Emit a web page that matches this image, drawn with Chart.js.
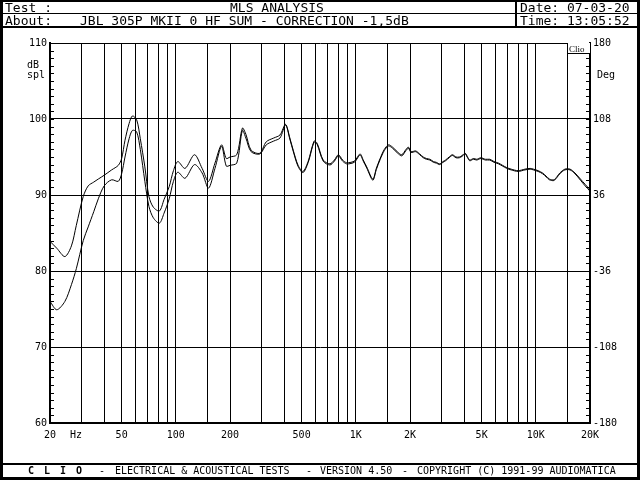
<!DOCTYPE html>
<html>
<head>
<meta charset="utf-8">
<script src="https://cdn.jsdelivr.net/npm/chart.js@4.4.1/dist/chart.umd.min.js"></script>
<style>
  html, body { margin:0; padding:0; background:#fff; }
  #wrap { position:relative; width:640px; height:480px; overflow:hidden; font-family:"DejaVu Sans Mono", monospace; color:#000; }
  #c { position:absolute; left:0; top:0; }
  .t { position:absolute; white-space:pre; line-height:1; }
  .hd { font-size:13px; }
  .ax { font-size:10px; }
  .ft { font-size:10px; top:466px; }
  .ln { position:absolute; background:#000; }
</style>
</head>
<body>
<div id="wrap">
  <canvas id="c" width="640" height="480"></canvas>

  <!-- frame + header / footer rules -->
  <div class="ln" style="left:0;top:0;width:640px;height:2px"></div>
  <div class="ln" style="left:0;top:0;width:3px;height:480px"></div>
  <div class="ln" style="left:637px;top:0;width:3px;height:480px"></div>
  <div class="ln" style="left:0;top:477px;width:640px;height:3px"></div>
  <div class="ln" style="left:0;top:13px;width:640px;height:1px"></div>
  <div class="ln" style="left:0;top:26px;width:640px;height:2px"></div>
  <div class="ln" style="left:515px;top:0;width:2px;height:27px"></div>
  <div class="ln" style="left:0;top:463px;width:640px;height:2px"></div>

  <div class="t hd" style="left:5px;top:1px">Test :</div>
  <div class="t hd" style="left:230px;top:1px">MLS ANALYSIS</div>
  <div class="t hd" style="left:520px;top:1px">Date: 07-03-20</div>
  <div class="t hd" style="left:5px;top:14px">About:</div>
  <div class="t hd" style="left:80px;top:14px">JBL 305P MKII 0 HF SUM - CORRECTION -1,5dB</div>
  <div class="t hd" style="left:520px;top:14px">Time: 13:05:52</div>

  <div class="t ax" style="left:27px;top:60px">dB</div>
  <div class="t ax" style="left:27px;top:70px">spl</div>
  <div class="t ax" style="left:597px;top:70px">Deg</div>
  <div class="t ax" style="left:70px;top:430px">Hz</div>

  <div style="position:absolute;left:567px;top:43px;width:22px;height:10px;border-left:1px solid #000;border-bottom:1px solid #000;background:#fff"></div>
  <div class="t" style="left:569px;top:44px;font:9px 'Liberation Serif',serif">Clio</div>

  <div class="t ft" style="left:28px;font-weight:bold;letter-spacing:2px">C L I O</div>
  <div class="t ft" style="left:99px">-</div>
  <div class="t ft" style="left:115px">ELECTRICAL &amp; ACOUSTICAL TESTS</div>
  <div class="t ft" style="left:306px">-</div>
  <div class="t ft" style="left:320px">VERSION 4.50</div>
  <div class="t ft" style="left:402px">-</div>
  <div class="t ft" style="left:417px">COPYRIGHT (C) 1991-99 AUDIOMATICA</div>
</div>

<script>
// frequency points (Hz) shared by both traces
const freqs = [20, 21.8, 24.2, 26.3, 28, 30.6, 32.6, 35, 37.1, 40, 44, 47.9, 50, 52.2, 55, 57.4, 60.6, 63.5, 67.3, 70.9,
  75, 81.1, 86, 91.9, 97, 102.6, 112.5, 127, 140, 152, 165, 179.6, 190.7, 200, 218, 234.4, 245, 262, 293, 318,
  350, 379, 407, 430, 449, 478, 509, 543, 587, 610, 659, 718, 760, 800, 845, 888, 940, 987, 1056, 1100,
  1150, 1243, 1300, 1364, 1440, 1520, 1600, 1700, 1800, 1900, 1960, 2030, 2150, 2265, 2370, 2470, 2580, 2700, 2800, 2923,
  3050, 3150, 3300, 3440, 3600, 3760, 3900, 4050, 4200, 4300, 4500, 4700, 4950, 5250, 5550, 5860, 6200, 6540, 6900, 7300,
  7970, 8700, 9300, 9710, 10300, 10900, 11400, 11900, 12600, 13100, 13600, 14500, 15500, 16500, 17700, 18800, 20000];

// trace 1 (upper at low frequencies), dB spl
const splA = [83.9, 83.0, 81.9, 83.3, 86.0, 89.8, 91.2, 91.7, 92.1, 92.6, 93.3, 93.9, 94.8, 97.2, 99.4, 100.4, 99.9, 97.4, 93.7, 89.8,
  88.4, 87.9, 89.4, 91.1, 93.2, 94.4, 93.5, 95.3, 93.5, 91.8, 94.2, 96.6, 94.8, 95.0, 95.3, 98.8, 98.0, 95.9, 95.5, 97.0,
  97.5, 97.9, 99.3, 97.5, 95.9, 93.9, 93.1, 94.4, 97.1, 96.8, 94.6, 94.1, 94.6, 95.3, 94.6, 94.25, 94.3, 94.5, 95.4, 94.6,
  93.7, 92.1, 93.5, 94.8, 96.0, 96.6, 96.3, 95.7, 95.3, 96.0, 96.3, 95.7, 95.8, 95.4, 95.0, 94.8, 94.7, 94.4, 94.3, 94.1,
  94.4, 94.6, 95.0, 95.3, 95.0, 95.0, 95.2, 95.5, 94.9, 94.6, 94.8, 94.7, 94.9, 94.7, 94.7, 94.4, 94.2, 93.9, 93.6, 93.4,
  93.2, 93.4, 93.5, 93.4, 93.2, 92.9, 92.5, 92.1, 92.0, 92.4, 92.9, 93.4, 93.4, 92.9, 92.1, 91.4, 90.7];

// trace 2 (lower at low frequencies), dB spl
const splB = [76.0, 74.9, 76.0, 78.2, 80.3, 84.0, 85.8, 87.8, 89.5, 91.2, 92.0, 91.8, 92.8, 95.0, 97.4, 98.5, 98.3, 96.0, 91.8, 88.5,
  87.0, 86.3, 87.6, 89.5, 91.8, 93.0, 92.2, 94.0, 92.9, 90.9, 93.5, 96.4, 93.8, 93.9, 94.2, 98.5, 97.5, 95.7, 95.4, 96.6,
  97.1, 97.5, 99.2, 97.35, 95.75, 93.75, 92.95, 94.25, 96.95, 96.65, 94.45, 93.95, 94.45, 95.15, 94.45, 94.1, 94.15, 94.35, 95.25, 94.45,
  93.55, 91.95, 93.35, 94.65, 95.85, 96.45, 96.15, 95.55, 95.15, 95.85, 96.15, 95.6, 95.7, 95.3, 94.9, 94.7, 94.6, 94.3, 94.2, 94.0,
  94.3, 94.5, 94.9, 95.2, 94.9, 94.9, 95.1, 95.4, 94.8, 94.5, 94.7, 94.6, 94.8, 94.6, 94.6, 94.3, 94.1, 93.8, 93.5, 93.3,
  93.1, 93.3, 93.4, 93.3, 93.1, 92.8, 92.4, 92.0, 91.9, 92.3, 92.8, 93.3, 93.3, 92.8, 91.95, 91.2, 90.5];

// x grid lines and which of them carry a label
const gridFreqs = [20, 30, 40, 50, 60, 70, 80, 90, 100, 150, 200, 300, 400, 500, 600, 700, 800, 900,
  1000, 1500, 2000, 3000, 4000, 5000, 6000, 7000, 8000, 9000, 10000, 15000, 20000];
const labelFreqs = [20, 50, 100, 200, 500, 1000, 2000, 5000, 10000, 20000];
const labelText = ['20', '50', '100', '200', '500', '1K', '2K', '5K', '10K', '20K'];

const mono = { family: 'DejaVu Sans Mono', size: 10 };

// 1 dB minor ticks pointing inward on both vertical axes
const minorTicks = {
  id: 'minorTicks',
  afterDraw(chart) {
    const { ctx, chartArea, scales } = chart;
    ctx.save();
    ctx.strokeStyle = '#000';
    ctx.lineWidth = 1;
    ctx.beginPath();
    for (let v = 60; v <= 110; v++) {
      const y = Math.round(scales.y.getPixelForValue(v)) + 0.5;
      ctx.moveTo(chartArea.left, y); ctx.lineTo(chartArea.left + 4, y);
      ctx.moveTo(chartArea.right - 4, y); ctx.lineTo(chartArea.right, y);
    }
    ctx.stroke();
    ctx.restore();
  }
};

const trace = (vals) => ({
  data: freqs.map((f, i) => ({ x: f, y: vals[i] })),
  borderColor: '#000', borderWidth: 1, pointRadius: 0, tension: 0.3, fill: false
});

new Chart(document.getElementById('c').getContext('2d'), {
  type: 'line',
  data: { datasets: [trace(splA), trace(splB)] },
  options: {
    responsive: false, animation: false, devicePixelRatio: 1,
    layout: { padding: { top: 43, left: 0, right: 0, bottom: 0 } },
    plugins: { legend: { display: false }, tooltip: { enabled: false } },
    scales: {
      x: {
        type: 'logarithmic', min: 20, max: 20000,
        afterBuildTicks: s => { s.ticks = gridFreqs.map(v => ({ value: v })); },
        afterFit: s => { s.height = 57; },
        ticks: {
          autoSkip: false, maxRotation: 0, padding: 6, color: '#000', font: mono,
          callback: v => { const i = labelFreqs.indexOf(v); return i >= 0 ? labelText[i] : ''; }
        },
        grid: { color: '#000', lineWidth: 1, drawTicks: false },
        border: { color: '#000', width: 2 }
      },
      y: {
        position: 'left', min: 60, max: 110,
        afterFit: s => { s.width = 50; },
        ticks: { stepSize: 10, padding: 3, color: '#000', font: mono },
        grid: { color: '#000', lineWidth: 1, drawTicks: false },
        border: { color: '#000', width: 2 }
      },
      y2: {
        position: 'right', min: -180, max: 180,
        afterFit: s => { s.width = 50; },
        ticks: { stepSize: 72, padding: 3, color: '#000', font: mono },
        grid: { drawOnChartArea: false, drawTicks: false },
        border: { color: '#000', width: 2 }
      }
    }
  },
  plugins: [minorTicks]
});
</script>
</body>
</html>
